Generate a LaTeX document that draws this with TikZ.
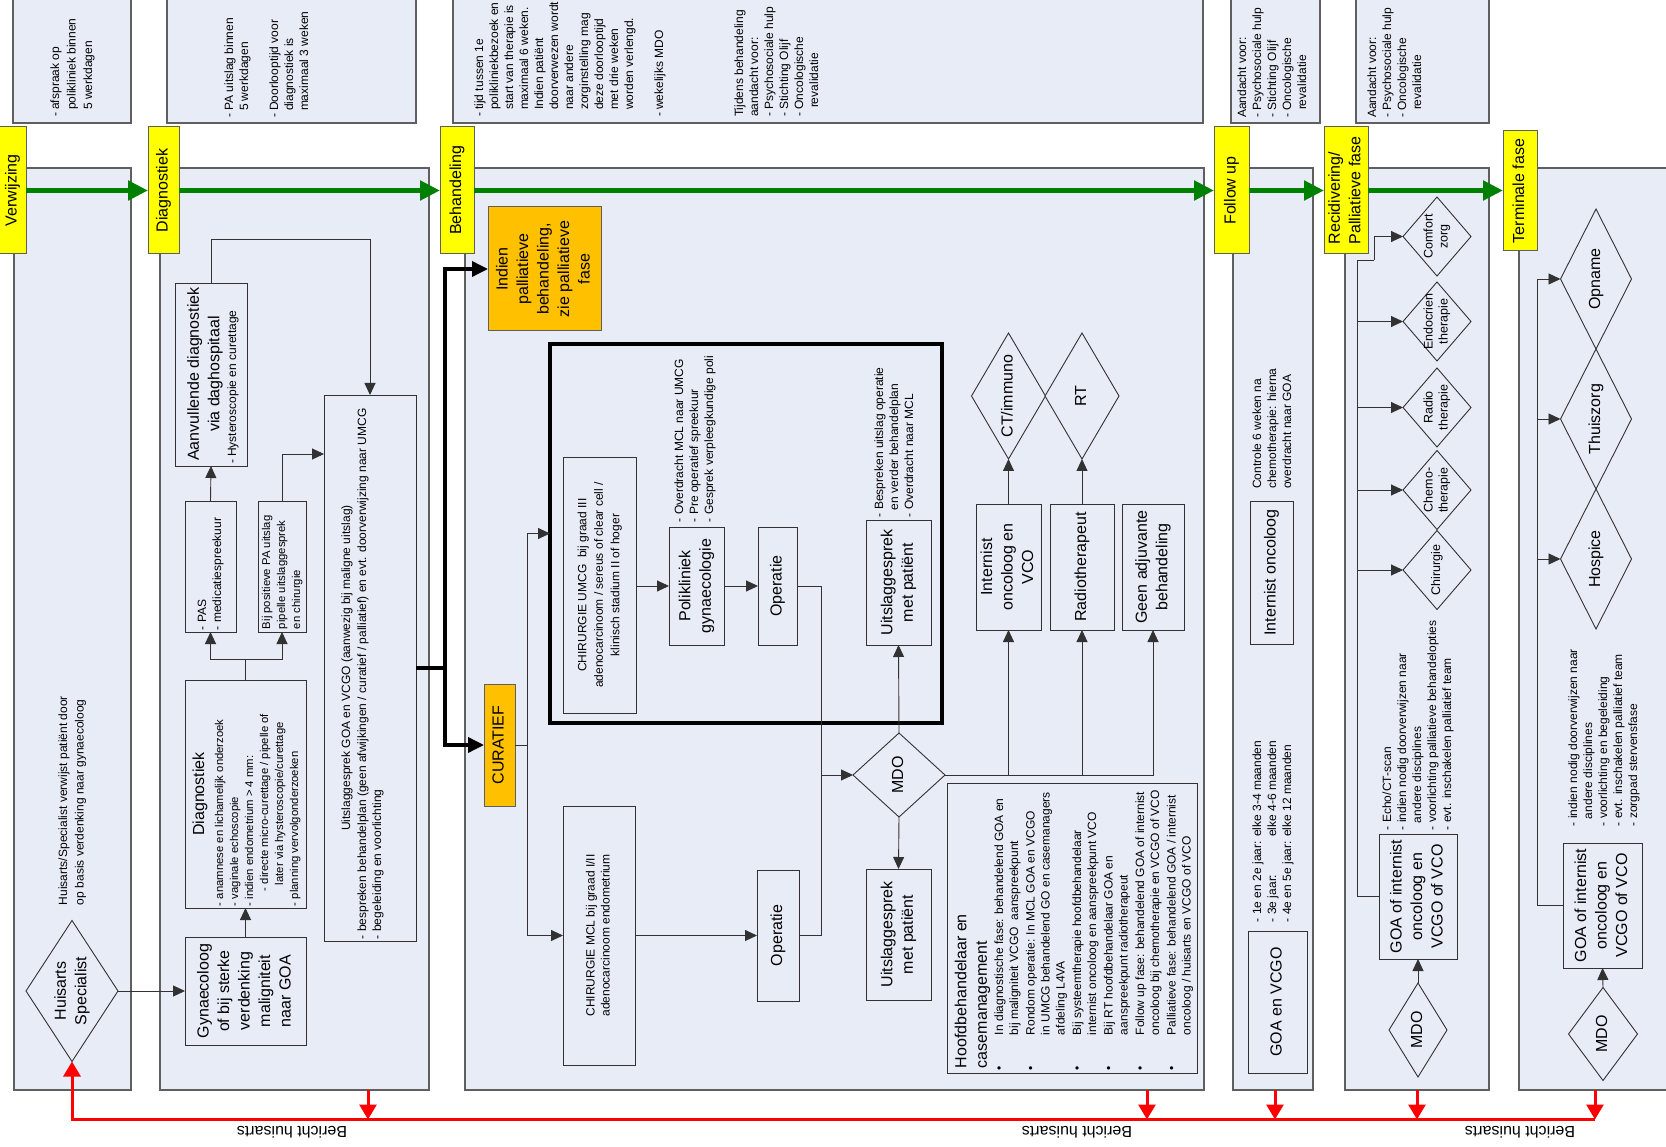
\documentclass[tikz,border=0pt]{standalone}
\usepackage{fontspec}
\setmainfont{Liberation Sans}
\usepackage{graphicx}
\usetikzlibrary{arrows.meta,shapes.geometric}
\definecolor{lanefill}{RGB}{231,236,247}
\definecolor{lanedraw}{RGB}{95,95,95}
\definecolor{gr}{RGB}{0,128,0}
\definecolor{yel}{RGB}{255,255,0}
\definecolor{orng}{RGB}{255,192,0}
\definecolor{ink}{RGB}{50,50,50}
\newcommand{\fsmall}{\fontsize{12}{15}\selectfont}
\newcommand{\fnarrow}{\fontsize{11.3}{15}\selectfont}
\newcommand{\fbig}{\fontsize{16}{20.5}\selectfont}
\newcommand{\fdia}{\fontsize{12.5}{15}\selectfont}
\newcommand{\rtl}[2]{\rotatebox{90}{#1\begin{tabular}{@{}l@{}}#2\end{tabular}}}
\newcommand{\rtc}[2]{\rotatebox{90}{#1\begin{tabular}{@{}c@{}}#2\end{tabular}}}
\newcommand{\bx}[7][]{\node[#1, minimum width={(#4)-(#3)}, minimum height={(#6)-(#5)}] (#2) at ({((#3)+(#4))/2},{((#5)+(#6))/2}) {#7};}
\tikzset{
 lane/.style={draw=lanedraw, fill=lanefill, line width=1.3pt, inner sep=0, outer sep=0},
 box/.style={draw=ink, fill=lanefill, line width=0.9pt, inner sep=0, outer sep=0},
 lbl/.style={draw=lanedraw, fill=yel, line width=1pt, inner sep=0, outer sep=0},
 obox/.style={draw=lanedraw, fill=orng, line width=1pt, inner sep=0, outer sep=0},
 frm/.style={draw=black, line width=3.5pt, inner sep=0, outer sep=0},
 dia/.style={diamond, draw=ink, fill=lanefill, line width=0.9pt, inner sep=0, outer sep=0},
 txt/.style={inner sep=0, outer sep=0, anchor=south west},
 ctxt/.style={inner sep=0, outer sep=0},
 ln/.style={draw=ink, line width=0.9pt},
 con/.style={draw=ink, line width=0.9pt, -{Triangle[length=12pt,width=11pt]}},
 thk/.style={draw=black, line width=3.5pt},
 thka/.style={thk, -{Triangle[length=16pt,width=15pt]}},
 grn/.style={draw=gr, line width=5pt, -{Triangle[length=20pt,width=19pt]}},
 rd/.style={draw=red, line width=3pt},
 rda/.style={rd, -{Triangle[length=15pt,width=17pt]}},
}
\begin{document}
\begin{tikzpicture}[x=1pt,y=-1pt]
\useasboundingbox (0,0) rectangle (1666,1147);
\fill[white] (0,0) rectangle (1666,1147);
% note boxes
\bx[lane]{n1}{13}{131}{-5}{123}{}
\bx[lane]{n2}{167}{416}{-5}{123}{}
\bx[lane]{n3}{453}{1203}{-5}{123}{}
\bx[lane]{n4}{1231}{1320}{-5}{123}{}
\bx[lane]{n5}{1356}{1489}{-5}{123}{}
% lanes
\bx[lane]{l1}{14}{131}{168}{1090}{}
\bx[lane]{l2}{160}{429}{168}{1090}{}
\bx[lane]{l3}{465}{1204}{168}{1090}{}
\bx[lane]{l4}{1233}{1313}{168}{1090}{}
\bx[lane]{l5}{1345}{1489}{168}{1090}{}
\bx[lane]{l6}{1519}{1685}{168}{1090}{}
% phase labels
\bx[lbl]{verw}{-1}{26}{127}{254}{\rtc{\fbig}{Verwijzing}}
\bx[lbl]{diagl}{148}{179}{127}{254}{\rtc{\fbig}{Diagnostiek}}
\bx[lbl]{behl}{440}{474}{127}{254}{\rtc{\fbig}{Behandeling}}
\bx[lbl]{fol}{1214}{1249}{127}{254}{\rtc{\fbig}{Follow up}}
\bx[lbl]{rec}{1324}{1368}{127}{254}{\rtl{\fbig}{Recidivering/\\Palliatieve fase}}
\bx[lbl]{term}{1503}{1537}{131}{251}{\rtc{\fbig}{Terminale fase}}
% note texts
\node[txt] (t1) at (47.6,117) {\rtl{\fontsize{12}{16.5}\selectfont}{- afspraak op\\\hspace*{7pt}polikliniek binnen\\\hspace*{7pt}5 werkdagen}};
\node[txt] (t2) at (222.6,118) {\rtl{\fsmall}{- PA uitslag binnen\\\hspace*{7pt}5 werkdagen\\ \\- Doorlooptijd voor\\\hspace*{7pt}diagnostiek is\\\hspace*{7pt}maximaal 3 weken}};
\node[txt] (t3) at (472.6,117) {\rtl{\fsmall}{- tijd tussen 1e\\\hspace*{7pt}polikliniekbezoek en\\\hspace*{7pt}start van therapie is\\\hspace*{7pt}maximaal 6 weken.\\\hspace*{7pt}Indien pati\"ent\\\hspace*{7pt}doorverwezen wordt\\\hspace*{7pt}naar andere\\\hspace*{7pt}zorginstelling mag\\\hspace*{7pt}deze doorlooptijd\\\hspace*{7pt}met drie weken\\\hspace*{7pt}worden verlengd.\\ \\- wekelijks MDO}};
\node[txt] (t3b) at (732.6,117) {\rtl{\fsmall}{Tijdens behandeling\\aandacht voor:\\- Psychosociale hulp\\- Stichting Olijf\\- Oncologische\\\hspace*{9pt}revalidatie}};
\node[txt] (t4) at (1235.6,118) {\rtl{\fsmall}{Aandacht voor:\\- Psychosociale hulp\\- Stichting Olijf\\- Oncologische\\\hspace*{8pt}revalidatie}};
\node[txt] (t5) at (1365.6,118) {\rtl{\fsmall}{Aandacht voor:\\- Psychosociale hulp\\- Oncologische\\\hspace*{8pt}revalidatie}};
% lane 1
\node[dia, minimum width=92, minimum height=141] (huis) at (72,991) {};
\node[ctxt] (huist) at (huis) {\rtc{\fbig}{Huisarts\\Specialist}};
\node[txt] (huistx) at (55.6,905) {\rtl{\fontsize{12}{16.5}\selectfont}{Huisarts/Specialist verwijst pati\"ent door\\op basis verdenking naar gynaecoloog}};
% lane 2
\bx[box]{aanv}{175}{247}{283}{466}{}
\node[ctxt] (aanvt) at (205,374) {\rtc{\fbig}{Aanvullende diagnostiek\\via daghospitaal}};
\node[txt] (aanvs) at (225.6,464) {\rtl{\fsmall}{- Hysteroscopie en curettage}};
\bx[box]{pas}{185}{236}{501}{632}{}
\node[txt] (past) at (195.5,630) {\rtl{\fsmall}{- PAS\\- medicatiespreekuur}};
\bx[box]{bijpa}{258}{306}{501}{632}{}
\node[txt] (bijpat) at (259.5,629) {\rtl{\fnarrow}{Bij positieve PA uitslag\\pipelle uitslaggesprek\\en chirurgie}};
\bx[box]{diag}{185}{306}{680}{908}{}
\node[ctxt] (diagt) at (200,794) {\rtc{\fbig}{Diagnostiek}};
\node[txt] (diagls) at (212.6,906) {\rtl{\fnarrow}{- anamnese en lichamelijk onderzoek\\- vaginale echoscopie\\- indien endometrium > 4 mm:\\\hspace*{15pt}- directe micro-curettage / pipelle of\\\hspace*{21pt}later via hysteroscopie/curettage\\- planning vervolgonderzoeken}};
\bx[box]{gyn}{185}{306}{937}{1045}{\rtc{\fbig}{Gynaecoloog\\of bij sterke\\verdenking\\maligniteit\\naar GOA}}
\bx[box]{uitsl}{324}{416}{395}{941}{}
\node[ctxt] (uitslt) at (347,668) {\rtc{\fsmall}{Uitslaggesprek GOA en VCGO (aanwezig bij maligne uitslag)}};
\node[txt] (uitsll) at (355.6,939) {\rtl{\fsmall}{- bespreken behandelplan (geen afwijkingen / curatief / palliatief) en evt. doorverwijzing naar UMCG\\- begeleiding en voorlichting}};
% lane 3
\bx[obox]{pal}{488}{601}{207}{331}{\rtc{\fbig}{Indien\\palliatieve\\behandeling,\\zie palliatieve\\fase}}
\bx[obox]{cur}{484}{515}{684}{806}{\rtc{\fbig}{CURATIEF}}
\bx[frm]{frame}{550}{942}{344}{723}{}
\bx[box]{chu}{563}{636}{457}{713}{\rtc{\fontsize{12}{16.5}\selectfont}{CHIRURGIE UMCG~~bij graad III\\adenocarcinoom / sereus of clear cell /\\klinisch stadium II of hoger}}
\bx[box]{poli}{669}{724}{527}{645}{\rtc{\fbig}{Polikliniek\\gynaecologie}}
\bx[box]{op1}{758}{797}{527}{645}{\rtc{\fbig}{Operatie}}
\bx[box]{us1}{866}{931}{520}{645}{\rtc{\fbig}{Uitslaggesprek\\met pati\"ent}}
\node[txt] (ovt) at (672.6,522) {\rtl{\fsmall}{- Overdracht MCL naar UMCG\\- Pre operatief spreekuur\\- Gesprek verpleegkundige poli}};
\node[txt] (bst) at (872.6,517) {\rtl{\fsmall}{- Bespreken uitslag operatie\\\hspace*{7pt}en verder behandelplan\\- Overdracht naar MCL}};
\bx[box]{mcl}{563}{635}{806}{1065}{\rtc{\fsmall}{CHIRURGIE MCL bij graad I/II\\adenocarcinoom endometrium}}
\bx[box]{op2}{757}{799}{870}{1001}{\rtc{\fbig}{Operatie}}
\node[dia, minimum width=92, minimum height=84] (mdo) at (899,775) {};
\node[ctxt] (mdot) at (mdo) {\rtc{\fbig}{MDO}};
\bx[box]{us2}{866}{931}{869}{1000}{\rtc{\fbig}{Uitslaggesprek\\met pati\"ent}}
\bx[box]{int}{976}{1041}{504}{630}{\rtc{\fbig}{Internist\\oncoloog en\\VCO}}
\bx[box]{rad}{1050}{1114}{504}{630}{\rtc{\fbig}{Radiotherapeut}}
\bx[box]{geen}{1122}{1184}{504}{630}{\rtc{\fbig}{Geen adjuvante\\behandeling}}
\node[dia, minimum width=74, minimum height=126] (ct) at (1008.5,396) {};
\node[ctxt] (ctt) at (ct) {\rtc{\fbig}{CT/immuno}};
\node[dia, minimum width=74, minimum height=126] (rt) at (1082,396) {};
\node[ctxt] (rtt) at (rt) {\rtc{\fbig}{RT}};
\bx[box]{hoofd}{947}{1197}{783}{1073}{}
\node[txt] (hoofdt) at (952,1068) {\rtl{\fbig}{Hoofdbehandelaar en\\casemanagement}};
\node[txt] (hoofdl) at (992.6,1070) {\rotatebox{90}{\fsmall\begin{tabular}{@{}l@{}l@{}}
\makebox[35pt][l]{\textbullet} & In diagnostische fase: behandelend GOA en\\
 & bij maligniteit VCGO~~aanspreekpunt\\[1.5pt]
\makebox[35pt][l]{\textbullet} & Rondom operatie: In MCL GOA en VCGO\\
 & in UMCG behandelend GO en casemanagers\\
 & afdeling L4VA\\[1.5pt]
\makebox[35pt][l]{\textbullet} & Bij systeemtherapie hoofdbehandelaar\\
 & internist oncoloog en aanspreekpunt VCO\\[1.5pt]
\makebox[35pt][l]{\textbullet} & Bij RT hoofdbehandelaar GOA en\\
 & aanspreekpunt radiotherapeut\\[1.5pt]
\makebox[35pt][l]{\textbullet} & Follow up fase: behandelend GOA of internist\\
 & oncoloog bij chemotherapie en VCGO of VCO\\[1.5pt]
\makebox[35pt][l]{\textbullet} & Palliatieve fase: behandelend GOA / internist\\
 & oncoloog / huisarts en VCGO of VCO
\end{tabular}}};
% lane 4
\bx[box]{io}{1250}{1293}{501}{644}{\rtc{\fbig}{Internist oncoloog}}
\node[txt] (cont) at (1250.6,489) {\rtl{\fsmall}{Controle 6 weken na\\chemotherapie: hierna\\overdracht naar GOA}};
\node[txt] (sched) at (1250.6,922) {\rotatebox{90}{\fsmall\begin{tabular}{@{}l@{ }l@{}}- 1e en 2e jaar: & elke 3-4 maanden\\- 3e jaar: & elke 4-6 maanden\\- 4e en 5e jaar: & elke 12 maanden\end{tabular}}};
\bx[box]{gv}{1248}{1307}{931}{1073}{\rtc{\fbig}{GOA en VCGO}}
% lane 5
\node[dia, minimum width=68, minimum height=79] (comf) at (1437,236.5) {};
\node[ctxt] (comft) at (comf) {\rtc{\fdia}{Comfort\\zorg}};
\node[dia, minimum width=68, minimum height=79] (endo) at (1437,321.5) {};
\node[ctxt] (endot) at (endo) {\rtc{\fdia}{Endocrien\\therapie}};
\node[dia, minimum width=68, minimum height=79] (radio) at (1437,407.5) {};
\node[ctxt] (radiot) at (radio) {\rtc{\fdia}{Radio\\therapie}};
\node[dia, minimum width=68, minimum height=79] (chemo) at (1437,490) {};
\node[ctxt] (chemot) at (chemo) {\rtc{\fdia}{Chemo-\\therapie}};
\node[dia, minimum width=68, minimum height=79] (chir) at (1437,570) {};
\node[ctxt] (chirt) at (chir) {\rtc{\fdia}{Chirurgie}};
\bx[box]{goa5}{1379}{1457}{834}{959}{\rtc{\fbig}{GOA of internist\\oncoloog en\\VCGO of VCO}}
\node[dia, minimum width=58, minimum height=94] (mdo5) at (1418,1030) {};
\node[ctxt] (mdo5t) at (mdo5) {\rtc{\fbig}{MDO}};
\node[txt] (l5t) at (1380.6,830) {\rtl{\fsmall}{- Echo/CT-scan\\- indien nodig doorverwijzen naar\\\hspace*{7pt}andere disciplines\\- voorlichting palliatieve behandelopties\\- evt. inschakelen palliatief team}};
% lane 6
\node[dia, minimum width=71, minimum height=140] (opn) at (1596,279) {};
\node[ctxt] (opnt) at (opn) {\rtc{\fbig}{Opname}};
\node[dia, minimum width=71, minimum height=140] (thuis) at (1596,419) {};
\node[ctxt] (thuist) at (thuis) {\rtc{\fbig}{Thuiszorg}};
\node[dia, minimum width=71, minimum height=140] (hosp) at (1596,559) {};
\node[ctxt] (hospt) at (hosp) {\rtc{\fbig}{Hospice}};
\bx[box]{goa6}{1563}{1642}{843}{968}{\rtc{\fbig}{GOA of internist\\oncoloog en\\VCGO of VCO}}
\node[dia, minimum width=69, minimum height=93] (mdo6) at (1603,1034) {};
\node[ctxt] (mdo6t) at (mdo6) {\rtc{\fbig}{MDO}};
\node[txt] (l6t) at (1566.6,826) {\rtl{\fsmall}{- indien nodig doorverwijzen naar\\\hspace*{7pt}andere disciplines\\- voorlichting en begeleiding\\- evt. inschakelen palliatief team\\- zorgpad stervensfase}};
% green flow
\draw[grn] (verw.east) -- (diagl.west);
\draw[grn] (diagl.east) -- (behl.west);
\draw[grn] (behl.east) -- (fol.west);
\draw[grn] (fol.east) -- (rec.west);
\draw[grn] (rec.east) -- (term.west |- rec.east);
% lane 2 connectors
\draw[con] (huis.east) -- (gyn.west);
\draw[con] (gyn.north) -- (diag.south);
\coordinate (fk) at (245.5,659);
\draw[ln] (diag.north) -- (fk);
\draw[con] (fk) -| (pas.south);
\draw[con] (fk) -| (bijpa.south);
\draw[con] (pas.north) -- (aanv.south);
\coordinate (ak) at (211,239);
\draw[con] (aanv.north) -- (ak) -| (uitsl.north);
\draw[con] (bijpa.north) |- ([yshift=-59pt]uitsl.north west);
% thick connectors
\coordinate (tj) at (445,668);
\draw[thk] (uitsl.east) -- (tj);
\draw[thka] (tj) |- (pal.west);
\draw[thka] (tj) |- (cur.west);
% lane 3 connectors
\coordinate (cj) at (527,745);
\draw[ln] (cur.east) -- (cj);
\draw[con] (cj) |- (frame.west);
\draw[con] (cj) |- (mcl.west);
\draw[con] (chu.east |- poli.west) -- (poli.west);
\draw[con] (poli.east) -- (op1.west);
\draw[con] (mcl.east) -- (op2.west);
\coordinate (oj) at (821,775);
\draw[ln] (op1.east) -| (oj);
\draw[ln] (op2.east) -| (oj);
\draw[con] (oj) -- (mdo.west);
\draw[con] (mdo.north) -- (us1.south);
\draw[con] (mdo.south) -- (us2.north);
\draw[con] (mdo.east) -| (int.south);
\draw[con] (mdo.east) -| (rad.south);
\draw[con] (mdo.east) -| (geen.south);
\draw[con] (int.north) -- (ct.south);
\draw[con] (rad.north) -- (rt.south);
% lane 5 connectors
\coordinate (r1) at (1357,260);
\coordinate (r3) at (1374,260);
\draw[ln] (goa5.west) -| (r1) -- (r3);
\draw[con] (r3) |- (comf.west);
\draw[con] (r1 |- endo.west) -- (endo.west);
\draw[con] (r1 |- radio.west) -- (radio.west);
\draw[con] (r1 |- chemo.west) -- (chemo.west);
\draw[con] (r1 |- chir.west) -- (chir.west);
\draw[con] (mdo5.north) -- (goa5.south);
% lane 6 connectors
\coordinate (s1) at (1537,279);
\draw[con] (goa6.west) -| (s1) -- (opn.west);
\draw[con] (s1 |- thuis.west) -- (thuis.west);
\draw[con] (s1 |- hosp.west) -- (hosp.west);
\draw[con] (mdo6.north) -- (goa6.south);
% red feedback
\coordinate (rb0) at (72,1119.5);
\coordinate (rb2) at (368,1119.5);
\coordinate (rb3) at (1147,1119.5);
\coordinate (rb4) at (1275,1119.5);
\coordinate (rb5) at (1417,1119.5);
\coordinate (rb6) at (1595,1119.5);
\draw[rda] (rb6) -- (rb0) -- (huis.south);
\draw[rda] (l2.south -| rb2) -- (rb2);
\draw[rda] (l3.south -| rb3) -- (rb3);
\draw[rda] (l4.south -| rb4) -- (rb4);
\draw[rda] (l5.south -| rb5) -- (rb5);
\draw[rda] (l6.south -| rb6) -- (rb6);
\node[ctxt, rotate=180] (ber1) at (292,1132) {\fbig Bericht huisarts};
\node[ctxt, rotate=180] (ber2) at (1077,1132) {\fbig Bericht huisarts};
\node[ctxt, rotate=180] (ber3) at (1520,1132) {\fbig Bericht huisarts};
\end{tikzpicture}
\end{document}
